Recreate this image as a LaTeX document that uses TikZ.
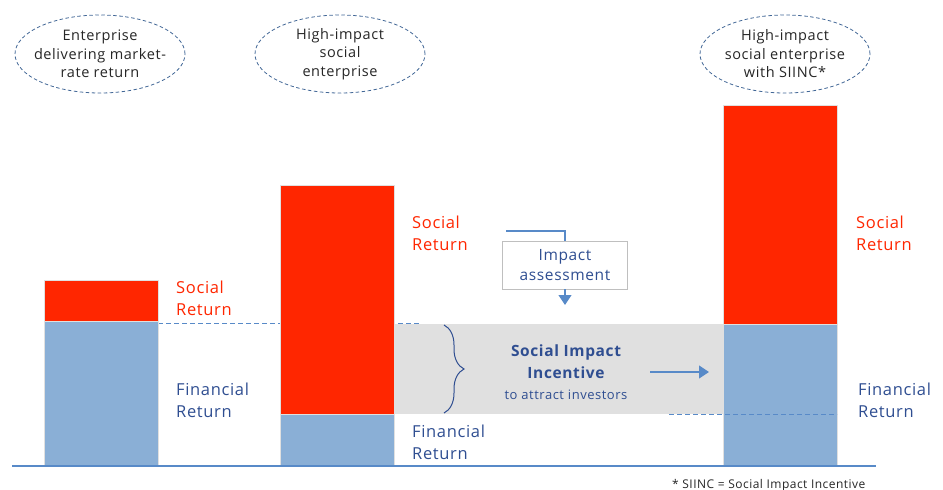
\documentclass[tikz,border=0pt]{standalone}
\usepackage{fontspec}
\setmainfont[LetterSpace=4]{Open Sans}
\usetikzlibrary{shapes.geometric,arrows.meta,decorations.pathreplacing}

\definecolor{socialred}{RGB}{255,38,0}
\definecolor{finblue}{RGB}{138,175,214}
\definecolor{textblue}{RGB}{47,78,145}
\definecolor{lineblue}{RGB}{88,138,200}
\definecolor{bandgray}{RGB}{224,224,224}

\tikzset{
  bubble/.style={ellipse, draw=lineblue!75!black, dash pattern=on 3.5pt off 2.5pt, thick,
    minimum width=170pt, minimum height=78pt, align=center, inner sep=-12pt, text=black!85,
    font=\fontsize{14.5}{18.5}\selectfont},
  redlabel/.style={anchor=north west, inner sep=0pt, align=left, text=socialred,
    font=\fontsize{16.5}{22}\selectfont},
  bluelabel/.style={anchor=north west, inner sep=0pt, align=left, text=textblue,
    font=\fontsize{16.5}{22}\selectfont},
  barline/.style={draw=black!12, line width=0.6pt},
  guide/.style={lineblue, dash pattern=on 5pt off 3pt, line width=1pt},
  tip/.style={lineblue, line width=1.2pt, -{Triangle[width=13pt,length=10pt]}}
}

\begin{document}
\begin{tikzpicture}[x=1pt, y=-1pt]
    \useasboundingbox (0,0) rectangle (943,490);

    % gray band and guide lines
    \draw [fill=bandgray, draw=none] (394,324) rectangle (723,414);
    \draw [guide] (158,323) -- (420,323);

    % bars
    \draw [fill=finblue, barline] (44,321) rectangle (158,466);
    \draw [fill=socialred, barline] (44,280) rectangle (158,321);

    \draw [fill=finblue, barline] (280,414) rectangle (394,466);
    \draw [fill=socialred, barline] (280,185) rectangle (394,414);

    \draw [fill=finblue, barline] (723,324) rectangle (837,466);
    \draw [fill=socialred, barline] (723,105) rectangle (837,324);

    \draw [guide] (669,414) -- (837,414);

    % base line
    \draw [lineblue, line width=2.5pt] (12,466) -- (876,466);

    % headings
    \node [bubble] (ent) at (100,54) {Enterprise\\delivering market-\\rate return};
    \node [bubble] (hisoc) at (340,54) {High-impact\\social\\enterprise};
    \node [bubble] (hisiinc) at (785,54) {High-impact\\social enterprise\\with SIINC*};

    % labels
    \node [redlabel] (soc1) at (176,281) {Social\\Return};
    \node [bluelabel] (fin1) at (176,383) {Financial\\Return};
    \node [redlabel] (soc2) at (412,216) {Social\\Return};
    \node [bluelabel] (fin2) at (412,425) {Financial\\Return};
    \node [redlabel] (soc3) at (856,216) {Social\\Return};
    \node [bluelabel] (fin3) at (858,383) {Financial\\Return};

    % impact assessment
    \node [draw=black!25, fill=white, minimum width=125pt, minimum height=48pt, align=center,
      text=textblue, font=\fontsize{15.5}{19.5}\selectfont] (impact) at (565,265) {Impact\\assessment};
    \coordinate (brk) at (506,231);
    \coordinate (dn) at (565,305);
    \draw [lineblue, line width=1.2pt] (brk) -| (impact.north);
    \draw [tip] (impact.south) -- (dn);

    % incentive
    \draw [textblue, line width=1pt, decorate, decoration={brace, amplitude=20pt}] (444,325) -- (444,413);
    \node [align=center, text=textblue, font=\fontsize{15.5}{22}\selectfont\bfseries] (siinc) at (566,362)
      {Social Impact\\Incentive};
    \node [text=textblue, font=\fontsize{13}{16}\selectfont, inner sep=0pt] (attract) at (566,395)
      {to attract investors};
    \coordinate (tobar) at (709,372);
    \draw [tip] (650,372) -- (tobar);

    % footnote
    \node [anchor=base west, inner sep=0pt, text=black!85, font=\fontsize{12}{15}\selectfont] (note)
      at (672,488) {* SIINC = Social Impact Incentive};
\end{tikzpicture}
\end{document}
